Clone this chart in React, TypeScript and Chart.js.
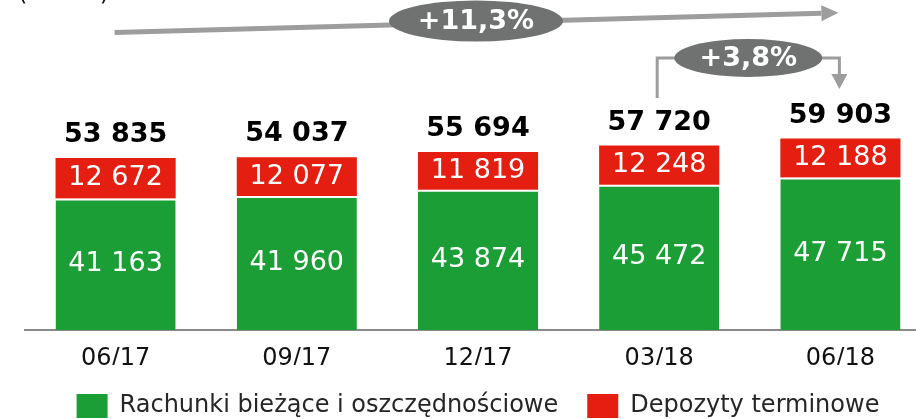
import React, { useEffect, useRef } from 'react';
import { Chart, registerables } from 'chart.js';

Chart.register(...registerables);

const categories = ['06/17', '09/17', '12/17', '03/18', '06/18'];
const currentSavings = [41163, 41960, 43874, 45472, 47715];
const termDeposits = [12672, 12077, 11819, 12248, 12188];
const totals = [53835, 54037, 55694, 57720, 59903];
const seriesNames = ['Rachunki bieżące i oszczędnościowe', 'Depozyty terminowe'];
const growthLabels = ['+11,3%', '+3,8%'];
const unitLabel = '(mln zł)';

const GREEN = '#1c9e36';
const RED = '#e41e10';
const ELLIPSE = '#6f7271';
const ARROW = '#9d9d9d';
const FONT = "'DejaVu Sans', Verdana, sans-serif";
const OFFSET_Y = 20; // canvas is shifted up by this many pixels
const CANVAS_W = 950;
const CANVAS_H = 448;

const fmt = (v: number) => String(v).replace(/\B(?=(\d{3})+(?!\d))/g, ' ');

const annotationsPlugin = {
  id: 'annotations',
  afterDatasetsDraw(chart: any) {
    const ctx = chart.ctx as CanvasRenderingContext2D;
    const m0 = chart.getDatasetMeta(0);
    const m1 = chart.getDatasetMeta(1);
    const P = (y: number) => y + OFFSET_Y;
    ctx.save();
    ctx.textAlign = 'center';
    ctx.textBaseline = 'middle';
    m0.data.forEach((bar: any, i: number) => {
      const g = bar.getProps(['x', 'y', 'base'], true);
      const r = m1.data[i].getProps(['x', 'y', 'base'], true);
      ctx.fillStyle = '#ffffff';
      ctx.font = `27px ${FONT}`;
      ctx.fillText(fmt(currentSavings[i]), g.x, (g.y + g.base) / 2);
      ctx.fillText(fmt(termDeposits[i]), r.x, (r.y + r.base) / 2);
      ctx.fillStyle = '#000000';
      ctx.font = `bold 27px ${FONT}`;
      ctx.fillText(fmt(totals[i]), r.x, r.y - 23);
    });

    const xs = m0.data.map((b: any) => b.x);

    // unit label (mostly cropped at top)
    ctx.textAlign = 'left';
    ctx.textBaseline = 'alphabetic';
    ctx.fillStyle = '#111111';
    ctx.font = `24px ${FONT}`;
    ctx.fillText(unitLabel, 18, P(0));

    // long arrow
    const ax0 = xs[0] - 1;
    const ay0 = P(32.5);
    const ax1 = xs[4] - 2;
    const ay1 = P(12.8);
    const ang = Math.atan2(ay1 - ay0, ax1 - ax0);
    const headLen = 17;
    ctx.strokeStyle = ARROW;
    ctx.fillStyle = ARROW;
    ctx.lineWidth = 5;
    ctx.beginPath();
    ctx.moveTo(ax0, ay0);
    ctx.lineTo(ax1 - headLen * Math.cos(ang), ay1 - headLen * Math.sin(ang));
    ctx.stroke();
    ctx.save();
    ctx.translate(ax1, ay1);
    ctx.rotate(ang);
    ctx.beginPath();
    ctx.moveTo(0, 0);
    ctx.lineTo(-headLen, -8);
    ctx.lineTo(-headLen, 8);
    ctx.closePath();
    ctx.fill();
    ctx.restore();

    // ellipse 1
    const e1x = xs[2] - 2;
    const e1y = P(21);
    ctx.fillStyle = ELLIPSE;
    ctx.beginPath();
    ctx.ellipse(e1x, e1y, 87, 20.5, 0, 0, Math.PI * 2);
    ctx.fill();
    ctx.fillStyle = '#ffffff';
    ctx.font = `bold 27px ${FONT}`;
    ctx.textAlign = 'center';
    ctx.textBaseline = 'middle';
    ctx.fillText(growthLabels[0], e1x, e1y + 1);

    // bracket arrow
    const bx0 = xs[3] - 2;
    const bx1 = xs[4] - 1;
    const by = P(58);
    const e2x = (bx0 + bx1) / 2;
    ctx.strokeStyle = ARROW;
    ctx.fillStyle = ARROW;
    ctx.lineWidth = 3;
    ctx.beginPath();
    ctx.moveTo(bx0, P(98));
    ctx.lineTo(bx0, by);
    ctx.lineTo(e2x - 60, by);
    ctx.moveTo(e2x + 60, by);
    ctx.lineTo(bx1, by);
    ctx.lineTo(bx1, P(75));
    ctx.stroke();
    ctx.beginPath();
    ctx.moveTo(bx1 - 8, P(74));
    ctx.lineTo(bx1 + 8, P(74));
    ctx.lineTo(bx1, P(89));
    ctx.closePath();
    ctx.fill();

    ctx.fillStyle = ELLIPSE;
    ctx.beginPath();
    ctx.ellipse(e2x, by, 74, 19, 0, 0, Math.PI * 2);
    ctx.fill();
    ctx.fillStyle = '#ffffff';
    ctx.font = `bold 27px ${FONT}`;
    ctx.fillText(growthLabels[1], e2x, by + 1);

    ctx.restore();
  },
};

export default function App() {
  const canvasRef = useRef<HTMLCanvasElement | null>(null);

  useEffect(() => {
    if (!canvasRef.current) return;
    const chart = new Chart(canvasRef.current, {
      type: 'bar',
      data: {
        labels: categories,
        datasets: [
          {
            label: seriesNames[0],
            data: currentSavings,
            backgroundColor: GREEN,
            borderColor: '#ffffff',
            borderWidth: { top: 2, left: 0, right: 0, bottom: 0 },
            borderSkipped: 'bottom',
            categoryPercentage: 1,
            barPercentage: 0.663,
          },
          {
            label: seriesNames[1],
            data: termDeposits,
            backgroundColor: RED,
            borderWidth: 0,
            categoryPercentage: 1,
            barPercentage: 0.663,
          },
        ],
      },
      options: {
        responsive: false,
        animation: false,
        devicePixelRatio: 1,
        layout: { padding: { left: 25, right: 19, top: 30.5, bottom: 0 } },
        scales: {
          x: {
            stacked: true,
            offset: true,
            grid: {
              display: true,
              drawOnChartArea: false,
              drawTicks: true,
              tickLength: 23,
              color: 'rgba(0,0,0,0)',
            },
            border: { display: true, color: '#8a8a8a', width: 2 },
            ticks: {
              padding: 0,
              color: '#111111',
              font: { family: FONT, size: 24, lineHeight: 0.5 },
            },
          },
          y: { stacked: true, display: false, min: 0, max: 100000 },
        },
        plugins: {
          legend: {
            position: 'bottom',
            labels: {
              boxWidth: 31,
              boxHeight: 24,
              padding: 29,
              color: '#262626',
              font: { family: FONT, size: 24 },
              generateLabels: (c: any) =>
                Chart.defaults.plugins.legend.labels
                  .generateLabels(c)
                  .map((l: any) => ({ ...l, lineWidth: 0, strokeStyle: 'rgba(0,0,0,0)' })),
            },
          },
          tooltip: { enabled: false },
        },
      },
      plugins: [annotationsPlugin],
    } as any);
    return () => chart.destroy();
  }, []);

  return (
    <div
      style={{
        position: 'fixed',
        left: 0,
        top: 0,
        width: 916,
        height: 419,
        overflow: 'hidden',
        background: '#ffffff',
      }}
    >
      <canvas
        ref={canvasRef}
        width={CANVAS_W}
        height={CANVAS_H}
        style={{ position: 'absolute', left: 0, top: -OFFSET_Y, width: CANVAS_W, height: CANVAS_H }}
      />
    </div>
  );
}
